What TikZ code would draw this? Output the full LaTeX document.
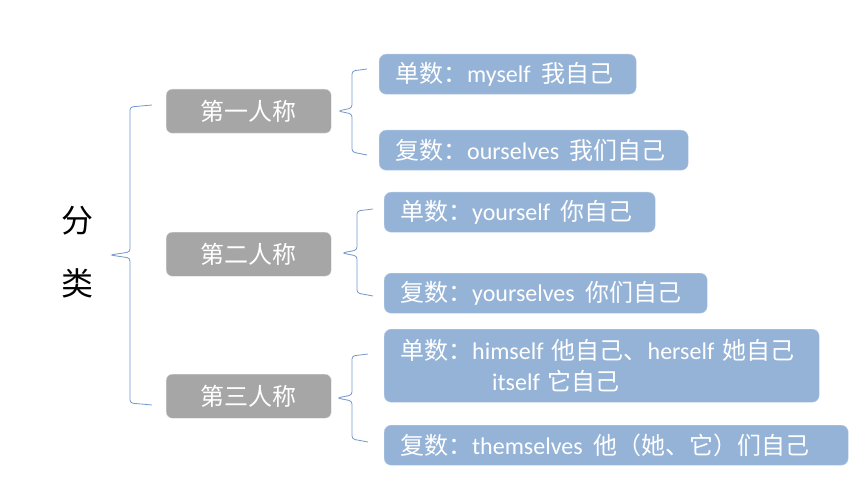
\documentclass[tikz,border=0pt]{standalone}
\usepackage{fontspec}
\setmainfont{Carlito}
\newfontfamily\cjk{Noto Sans CJK SC}
\definecolor{boxgray}{HTML}{A6A6A6}
\definecolor{boxblue}{HTML}{95B3D7}
\definecolor{braceblue}{HTML}{7396CB}
\newcommand\gap{\hspace{0.45em}}
\tikzset{
  kind/.style={fill=boxgray,draw=gray!25,rounded corners=6pt,text=white,
    minimum width=165pt,minimum height=44pt,inner sep=0pt,anchor=north west,
    font=\fontsize{24}{29}\selectfont\cjk},
  item/.style={fill=boxblue,draw=boxblue!70!white,rounded corners=7pt,text=white,
    anchor=north west,align=left,inner xsep=16pt,inner ysep=0pt,minimum height=40pt,
    font=\fontsize{24}{31}\selectfont},
  bigchar/.style={font=\fontsize{32}{32}\selectfont\cjk,text=black},
  brace/.style={draw=braceblue,line width=0.8pt,rounded corners=3pt}
}
\begin{document}
\begin{tikzpicture}[x=1pt,y=-1pt]
  \useasboundingbox (0,0) rectangle (860,484);
  % left label
  \node[bigchar] (fen) at (77,221) {分};
  \node[bigchar] (lei) at (77,283) {类};
  % persons
  \node[kind] (first) at (166,89) {第一人称};
  \node[kind] (second) at (166,232) {第二人称};
  \node[kind] (third) at (166,374) {第三人称};
  % singular / plural
  \node[item,text width=225pt] (s1) at (379,54) {{\cjk 单数：}myself\gap{\cjk 我自己}};
  \node[item,text width=277pt] (p1) at (379,130) {{\cjk 复数：}ourselves\gap{\cjk 我们自己}};
  \node[item,text width=239pt] (s2) at (384,192) {{\cjk 单数：}yourself\gap{\cjk 你自己}};
  \node[item,text width=291pt] (p2) at (384,273) {{\cjk 复数：}yourselves\gap{\cjk 你们自己}};
  \node[item,text width=403pt,minimum height=73pt] (s3) at (384,329)
    {\mbox{{\cjk 单数：}himself {\cjk 他自己、}herself {\cjk 她自己}}\\
     \hspace*{92pt}itself {\cjk 它自己}};
  \node[item,text width=432pt] (p3) at (384,425)
    {\mbox{{\cjk 复数：}themselves\gap{\cjk 他（她、它）们自己}}};
  % braces
  \coordinate (b0) at (110,255);
  \coordinate (b0a) at (152,105);
  \coordinate (b0b) at (152,405);
  \draw[brace] (b0a) -- (130,107) -- (130,252) -- (b0) -- (130,258) -- (130,403) -- (b0b);
  \coordinate (b1) at (338,111);
  \coordinate (b1a) at (367,69);
  \coordinate (b1b) at (367,155);
  \draw[brace] (b1a) -- (352,71) -- (352,108) -- (b1) -- (352,114) -- (352,152) -- (b1b);
  \coordinate (b2) at (342,253);
  \coordinate (b2a) at (373,209);
  \coordinate (b2b) at (373,296);
  \draw[brace] (b2a) -- (357,211) -- (357,250) -- (b2) -- (357,256) -- (357,293) -- (b2b);
  \coordinate (b3) at (337,398);
  \coordinate (b3a) at (368,354);
  \coordinate (b3b) at (368,442);
  \draw[brace] (b3a) -- (352,356) -- (352,395) -- (b3) -- (352,401) -- (352,439) -- (b3b);
\end{tikzpicture}
\end{document}
